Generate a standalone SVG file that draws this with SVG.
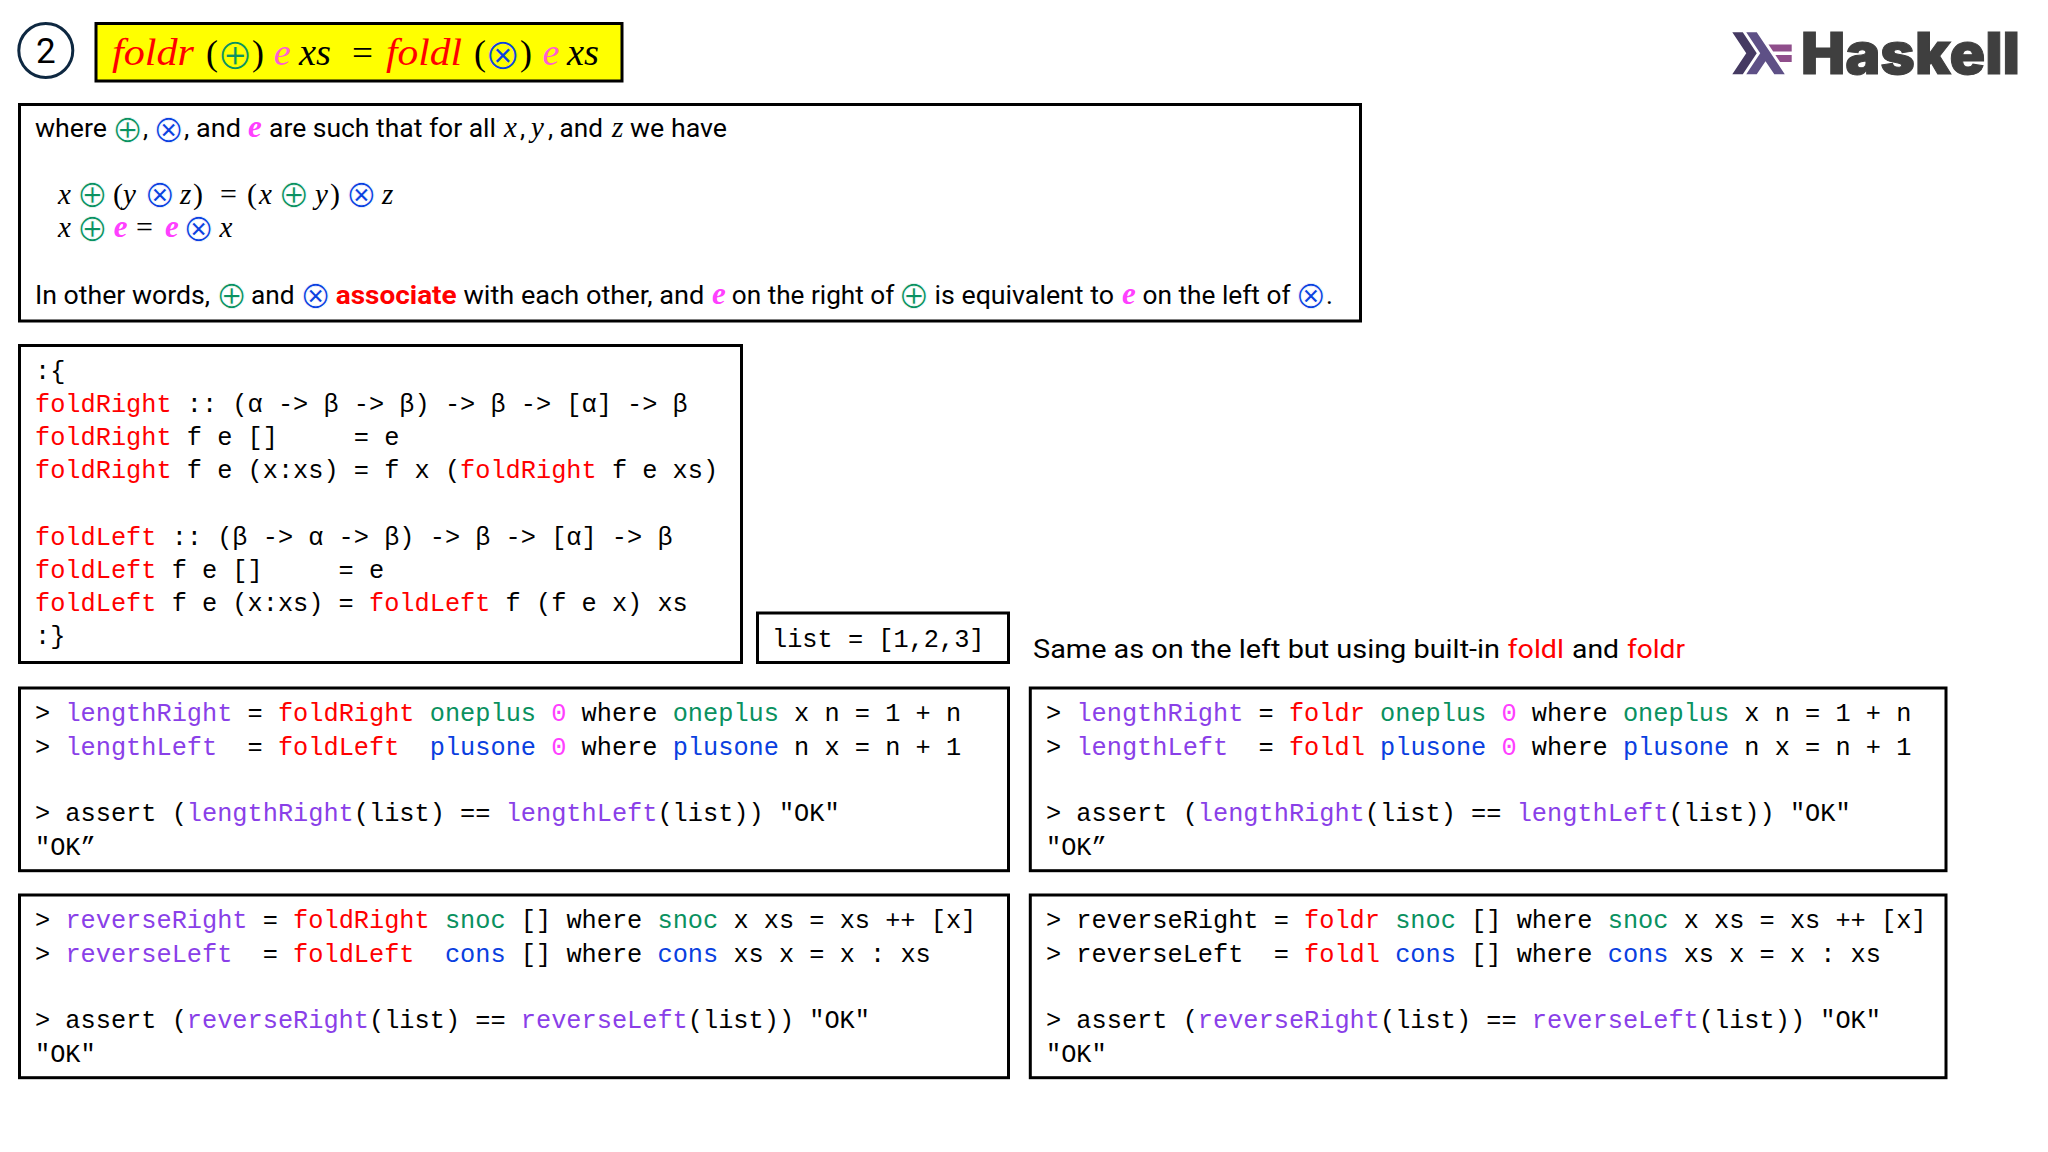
<svg xmlns="http://www.w3.org/2000/svg" width="2048" height="1152" viewBox="0 0 2048 1152">
<style>
text{white-space:pre}
.box{fill:#fff;stroke:#000;stroke-width:3}
.c{font-family:"Liberation Mono",monospace;font-size:25.3px;fill:#000}
.s{font-family:Roboto,"Liberation Sans",sans-serif;font-size:26px;fill:#000}
.m{font-family:"Liberation Serif",serif;font-style:italic;font-size:29px;fill:#000}
.t{font-family:"Liberation Serif",serif;font-style:italic;font-size:38px;fill:#000}
.u{font-family:"Liberation Serif",serif;font-size:30px;fill:#000}
.w{font-family:"Liberation Serif",serif;font-size:36px;fill:#000}
.o{font-family:"DejaVu Sans",sans-serif;font-size:38px;stroke:#fff;stroke-width:.9}
.ot{font-size:43px;stroke:#ff0;stroke-width:1}
.r{fill:#f00}.g{fill:#0a9160}.b{fill:#0a3fe0}.p{fill:#8a3fe8}.e{fill:#ff40ff}.k{fill:#ff5fd0}
.m.e{font-weight:700;font-size:31px}
</style>
<rect width="2048" height="1152" fill="#fff"/>
<g id="badge"><ellipse cx="45.8" cy="50.5" rx="27" ry="27" fill="#fff" stroke="#0e2841" stroke-width="3"/><text x="45.8" y="63" class="s" style="font-size:35px" text-anchor="middle">2</text></g>
<g id="title"><rect x="96" y="23.5" width="526" height="57.5" fill="#ff0" stroke="#000" stroke-width="3"/>
<text class="t r" x="112" y="65" textLength="82" lengthAdjust="spacingAndGlyphs">foldr</text><text class="w" x="206" y="65">(</text><text class="o ot g" x="217" y="68.7">⊕</text><text class="w" x="252" y="65">)</text><text class="t k" x="273.7" y="65">e</text><text class="t" x="299" y="65" textLength="32" lengthAdjust="spacingAndGlyphs">xs</text><text class="w" x="352" y="65" textLength="21" lengthAdjust="spacingAndGlyphs">=</text><text class="t r" x="386" y="65" textLength="76" lengthAdjust="spacingAndGlyphs">foldl</text><text class="w" x="474" y="65">(</text><text class="o ot b" x="484.7" y="68.7">⊗</text><text class="w" x="520" y="65">)</text><text class="t k" x="542.4" y="65">e</text><text class="t" x="567" y="65" textLength="32" lengthAdjust="spacingAndGlyphs">xs</text></g>
<g id="logo"><g transform="translate(1732.3 32.3) scale(.1235)"><polygon points="0,340 113,170 0,0 85,0 198,170 85,340" fill="#453a62"/><polygon points="113,340 226,170 113,0 198,0 425,340 340,340 269,234 198,340" fill="#5e5086"/><polygon points="387,241 349,184 481,184 481,241" fill="#8f4e8b"/><polygon points="331,156 293,99 481,99 481,156" fill="#8f4e8b"/></g><text x="1801" y="74" style="font-family:Inter,sans-serif;font-weight:900;font-size:58px;fill:#3f3f3f;stroke:#3f3f3f;stroke-width:1" textLength="219" lengthAdjust="spacingAndGlyphs">Haskell</text></g>
<g id="laws"><rect class="box" x="19.5" y="104.5" width="1341" height="216.5"/>
<text class="s" x="35" y="137" textLength="72" lengthAdjust="spacingAndGlyphs">where</text><text class="o g" x="111.8" y="142">⊕</text><text class="s" x="143" y="137">,</text><text class="o b" x="152.8" y="142">⊗</text><text class="s" x="184" y="137" textLength="57" lengthAdjust="spacingAndGlyphs">, and</text><text class="m e" x="248" y="137">e</text><text class="s" x="269" y="137" textLength="227" lengthAdjust="spacingAndGlyphs">are such that for all</text><text class="m" x="504" y="137">x</text><text class="s" x="520" y="137">,</text><text class="m" x="531" y="137">y</text><text class="s" x="548" y="137" textLength="55" lengthAdjust="spacingAndGlyphs">, and</text><text class="m" x="612" y="137">z</text><text class="s" x="630" y="137" textLength="97" lengthAdjust="spacingAndGlyphs">we have</text>
<text><tspan class="m" x="58" y="203.5">x</tspan><tspan class="o g" x="76.5" y="207.4">⊕</tspan><tspan class="u" x="113" y="203.5">(</tspan><tspan class="m" x="123" y="203.5">y</tspan><tspan class="o b" x="143.9" y="207.4">⊗</tspan><tspan class="m" x="180" y="203.5">z</tspan><tspan class="u" x="193" y="203.5">)</tspan><tspan class="u" x="220" y="203.5">=</tspan><tspan class="u" x="247" y="203.5">(</tspan><tspan class="m" x="259" y="203.5">x</tspan><tspan class="o g" x="278.1" y="207.4">⊕</tspan><tspan class="m" x="315" y="203.5">y</tspan><tspan class="u" x="330" y="203.5">)</tspan><tspan class="o b" x="345.6" y="207.4">⊗</tspan><tspan class="m" x="382" y="203.5">z</tspan></text>
<text><tspan class="m" x="58" y="237">x</tspan><tspan class="o g" x="76.5" y="241.4">⊕</tspan><tspan class="m e" x="113.8" y="237">e</tspan><tspan class="u" x="136" y="237">=</tspan><tspan class="m e" x="165" y="237">e</tspan><tspan class="o b" x="182.8" y="241.4">⊗</tspan><tspan class="m" x="219.6" y="237">x</tspan></text>
<text class="s" x="35" y="303.5" textLength="175" lengthAdjust="spacingAndGlyphs">In other words,</text><text class="o g" x="215.8" y="307.9">⊕</text><text class="s" x="251" y="303.5" textLength="43.6" lengthAdjust="spacingAndGlyphs">and</text><text class="o b" x="299.8" y="307.9">⊗</text><text class="s r" style="font-weight:700" x="335.7" y="303.5" textLength="121" lengthAdjust="spacingAndGlyphs">associate</text><text class="s" x="463.4" y="303.5" textLength="241" lengthAdjust="spacingAndGlyphs">with each other, and</text><text class="m e" x="712" y="303.5">e</text><text class="s" x="731.8" y="303.5" textLength="162.5" lengthAdjust="spacingAndGlyphs">on the right of</text><text class="o g" x="898.1" y="307.9">⊕</text><text class="s" x="934.5" y="303.5" textLength="179.5" lengthAdjust="spacingAndGlyphs">is equivalent to</text><text class="m e" x="1122" y="303.5">e</text><text class="s" x="1142.5" y="303.5" textLength="148" lengthAdjust="spacingAndGlyphs">on the left of</text><text class="o b" x="1294.9" y="307.9">⊗</text><text class="s" x="1326" y="303.5">.</text></g>
<g id="defs-box"><rect class="box" x="19.5" y="345.5" width="722" height="317"/>
<text class="c" x="35" y="379">:{</text>
<text class="c" x="35" y="411.7"><tspan class="r">foldRight</tspan> :: (α -&gt; β -&gt; β) -&gt; β -&gt; [α] -&gt; β</text>
<text class="c" x="35" y="444.5"><tspan class="r">foldRight</tspan> f e []     = e</text>
<text class="c" x="35" y="477.7"><tspan class="r">foldRight</tspan> f e (x:xs) = f x (<tspan class="r">foldRight</tspan> f e xs)</text>
<text class="c" x="35" y="545"><tspan class="r">foldLeft</tspan> :: (β -&gt; α -&gt; β) -&gt; β -&gt; [α] -&gt; β</text>
<text class="c" x="35" y="578"><tspan class="r">foldLeft</tspan> f e []     = e</text>
<text class="c" x="35" y="610.5"><tspan class="r">foldLeft</tspan> f e (x:xs) = <tspan class="r">foldLeft</tspan> f (f e x) xs</text>
<text class="c" x="35" y="644">:}</text></g>
<g id="list"><rect class="box" x="757.5" y="613" width="251" height="49.5"/><text class="c" x="772" y="646.5">list = [1,2,3]</text></g>
<g id="note"><text class="s" x="1033" y="658" textLength="467" lengthAdjust="spacingAndGlyphs">Same as on the left but using built-in</text><text class="s r" x="1507.6" y="658" textLength="56.4" lengthAdjust="spacingAndGlyphs">foldl</text><text class="s" x="1572" y="658" textLength="47" lengthAdjust="spacingAndGlyphs">and</text><text class="s r" x="1627" y="658" textLength="58" lengthAdjust="spacingAndGlyphs">foldr</text></g>
<g id="length-left"><rect class="box" x="19.5" y="688" width="989" height="182.7"/>
<text class="c" x="35" y="720.5">&gt; <tspan class="p">lengthRight</tspan> = <tspan class="r">foldRight</tspan> <tspan class="g">oneplus</tspan> <tspan class="e">0</tspan> where <tspan class="g">oneplus</tspan> x n = 1 + n</text>
<text class="c" x="35" y="755">&gt; <tspan class="p">lengthLeft</tspan>  = <tspan class="r">foldLeft</tspan>  <tspan class="b">plusone</tspan> <tspan class="e">0</tspan> where <tspan class="b">plusone</tspan> n x = n + 1</text>
<text class="c" x="35" y="821">&gt; assert (<tspan class="p">lengthRight</tspan>(list) == <tspan class="p">lengthLeft</tspan>(list)) "OK"</text>
<text class="c" x="35" y="855">"OK”</text></g>
<g id="reverse-left"><rect class="box" x="19.5" y="895" width="989" height="182.7"/>
<text class="c" x="35" y="927.5">&gt; <tspan class="p">reverseRight</tspan> = <tspan class="r">foldRight</tspan> <tspan class="g">snoc</tspan> [] where <tspan class="g">snoc</tspan> x xs = xs ++ [x]</text>
<text class="c" x="35" y="961.5">&gt; <tspan class="p">reverseLeft</tspan>  = <tspan class="r">foldLeft</tspan>  <tspan class="b">cons</tspan> [] where <tspan class="b">cons</tspan> xs x = x : xs</text>
<text class="c" x="35" y="1027.5">&gt; assert (<tspan class="p">reverseRight</tspan>(list) == <tspan class="p">reverseLeft</tspan>(list)) "OK"</text>
<text class="c" x="35" y="1062">"OK"</text></g>
<g id="length-right"><rect class="box" x="1030.3" y="688" width="915.7" height="182.7"/>
<text class="c" x="1046" y="720.5">&gt; <tspan class="p">lengthRight</tspan> = <tspan class="r">foldr</tspan> <tspan class="g">oneplus</tspan> <tspan class="e">0</tspan> where <tspan class="g">oneplus</tspan> x n = 1 + n</text>
<text class="c" x="1046" y="755">&gt; <tspan class="p">lengthLeft</tspan>  = <tspan class="r">foldl</tspan> <tspan class="b">plusone</tspan> <tspan class="e">0</tspan> where <tspan class="b">plusone</tspan> n x = n + 1</text>
<text class="c" x="1046" y="821">&gt; assert (<tspan class="p">lengthRight</tspan>(list) == <tspan class="p">lengthLeft</tspan>(list)) "OK"</text>
<text class="c" x="1046" y="855">"OK”</text></g>
<g id="reverse-right"><rect class="box" x="1030.3" y="895" width="915.7" height="182.7"/>
<text class="c" x="1046" y="927.5">&gt; reverseRight = <tspan class="r">foldr</tspan> <tspan class="g">snoc</tspan> [] where <tspan class="g">snoc</tspan> x xs = xs ++ [x]</text>
<text class="c" x="1046" y="961.5">&gt; reverseLeft  = <tspan class="r">foldl</tspan> <tspan class="b">cons</tspan> [] where <tspan class="b">cons</tspan> xs x = x : xs</text>
<text class="c" x="1046" y="1027.5">&gt; assert (<tspan class="p">reverseRight</tspan>(list) == <tspan class="p">reverseLeft</tspan>(list)) "OK"</text>
<text class="c" x="1046" y="1062">"OK"</text></g>
<g id="connectors"/>
</svg>
